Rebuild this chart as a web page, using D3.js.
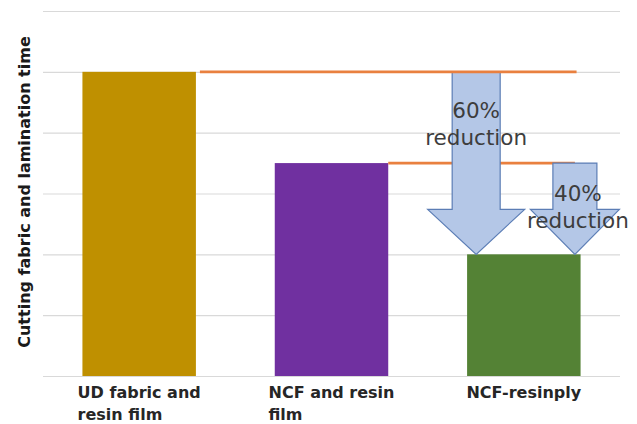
<!DOCTYPE html>
<html>
<head>
<meta charset="utf-8">
<script src="https://cdn.jsdelivr.net/npm/d3@7"></script>
<style>
  html, body { margin: 0; padding: 0; background: #fff; }
  svg { display: block; }
</style>
</head>
<body>
<svg id="chart" width="637" height="424"></svg>
<script>
// Process categories and relative cutting + lamination time
const categories = ["UD fabric and resin film", "NCF and resin film", "NCF-resinply"];
const labelLines = [["UD fabric and", "resin film"], ["NCF and resin", "film"], ["NCF-resinply"]];
const values = [100, 70, 40];
const barColors = ["#BF9000", "#7030A0", "#548235"];
const gridTicks = [0, 20, 40, 60, 80, 100, 120];
const axisTitle = "Cutting fabric and lamination time";

// Reduction arrows: start and end values, and label text
const reductions = [
  { from: 100, to: 40, pct: "60%", word: "reduction" },
  { from: 70,  to: 40, pct: "40%", word: "reduction" }
];

const svg = d3.select("#chart");
const plot = { left: 43, right: 620, top: 11, bottom: 376 };

const x = d3.scaleBand()
  .domain(categories)
  .range([plot.left, plot.right])
  .paddingInner(0.41)
  .paddingOuter(0.205);

const y = d3.scaleLinear()
  .domain([0, 120])
  .range([plot.bottom, plot.top]);

// Horizontal gridlines (no tick labels)
const grid = d3.axisLeft(y)
  .tickValues(gridTicks)
  .tickSize(-(plot.right - plot.left))
  .tickFormat("");
svg.append("g")
  .attr("transform", `translate(${plot.left},0)`)
  .call(grid)
  .call(g => g.select(".domain").remove())
  .call(g => g.selectAll(".tick line").attr("stroke", "#d9d9d9").attr("stroke-width", 1.2));

// Bars
svg.append("g").selectAll("rect")
  .data(categories)
  .join("rect")
  .attr("x", d => x(d))
  .attr("y", (d, i) => y(values[i]))
  .attr("width", x.bandwidth())
  .attr("height", (d, i) => y(0) - y(values[i]))
  .attr("fill", (d, i) => barColors[i]);

const orange = "#E9803F";
const last = categories[2];
const lastLeft = x(last), lastRight = x(last) + x.bandwidth();

// Arrow horizontal centres within the last bar
const arrowCx = [lastLeft + x.bandwidth() * 0.08, lastLeft + x.bandwidth() * 0.95];
const shaftW = [48, 44];
const headW = [97, 89];
const headH = 45;

// Reference line at the middle bar's level (runs behind the arrows)
svg.append("line")
  .attr("x1", x(categories[1]) + x.bandwidth())
  .attr("x2", arrowCx[1])
  .attr("y1", y(values[1])).attr("y2", y(values[1]))
  .attr("stroke", orange).attr("stroke-width", 2.6);

// Down arrows
reductions.forEach((r, i) => {
  const cx = arrowCx[i];
  const yTop = y(r.from), yTip = y(r.to), yHead = yTip - headH;
  const sw = shaftW[i] / 2, hw = headW[i] / 2;
  const pts = [
    [cx - sw, yTop], [cx + sw, yTop], [cx + sw, yHead], [cx + hw, yHead],
    [cx, yTip], [cx - hw, yHead], [cx - sw, yHead]
  ];
  svg.append("path")
    .attr("d", d3.line()(pts) + "Z")
    .attr("fill", "#B4C7E7")
    .attr("stroke", "#5B7DB5")
    .attr("stroke-width", 1.2);
});

// Reference line at the first bar's level
svg.append("line")
  .attr("x1", x(categories[0]) + x.bandwidth() + 4)
  .attr("x2", lastRight - 4)
  .attr("y1", y(values[0])).attr("y2", y(values[0]))
  .attr("stroke", orange).attr("stroke-width", 2.6);

// Reduction labels
const labelFont = "'DejaVu Sans', 'Noto Sans', sans-serif";
const labelPos = [
  { x: arrowCx[0], y1: 118, y2: 145 },
  { x: arrowCx[1] + 3, y1: 201, y2: 228 }
];
reductions.forEach((r, i) => {
  const g = svg.append("g")
    .attr("font-family", labelFont)
    .attr("font-size", 21.5)
    .attr("font-weight", 400)
    .attr("fill", "#3d3d3d")
    .attr("text-anchor", "middle");
  g.append("text").attr("x", labelPos[i].x).attr("y", labelPos[i].y1).text(r.pct);
  g.append("text").attr("x", labelPos[i].x).attr("y", labelPos[i].y2).text(r.word);
});

// Category labels: lines left-aligned in a block centred under each bar
const catFont = "'DejaVu Sans', 'Noto Sans', sans-serif";
categories.forEach((c, i) => {
  const g = svg.append("g")
    .attr("font-family", catFont)
    .attr("font-size", 16)
    .attr("font-weight", 700)
    .attr("fill", "#262626");
  const texts = labelLines[i].map((line, j) =>
    g.append("text").attr("y", 398 + j * 22).text(line));
  const maxW = d3.max(texts, t => t.node().getComputedTextLength());
  const cx = x(c) + x.bandwidth() / 2;
  texts.forEach(t => t.attr("x", cx - maxW / 2));
});

// Y axis title
svg.append("text")
  .attr("transform", `translate(24,192) rotate(-90)`)
  .attr("text-anchor", "middle")
  .attr("dominant-baseline", "central")
  .attr("font-family", catFont)
  .attr("font-size", 16)
  .attr("font-weight", 700)
  .attr("fill", "#1a1a1a")
  .text(axisTitle);
</script>
</body>
</html>
